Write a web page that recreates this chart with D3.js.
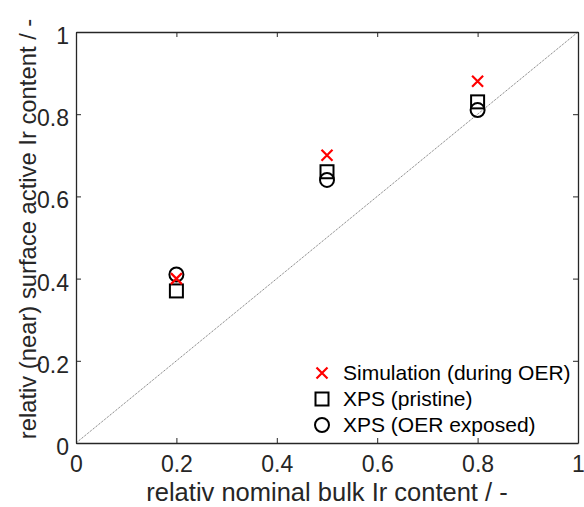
<!DOCTYPE html>
<html>
<head>
<meta charset="utf-8">
<script src="https://cdn.jsdelivr.net/npm/d3@7"></script>
<style>
  body { margin: 0; background: #fff; }
  text { font-family: "Liberation Sans", Arial, sans-serif; }
</style>
</head>
<body>
<svg id="chart" width="584" height="507"></svg>
<script>
const nominal = [0.2, 0.5, 0.8];
const simulation = [0.40, 0.70, 0.88];
const xpsPristine = [0.37, 0.66, 0.83];
const xpsOer = [0.41, 0.64, 0.81];
const ticks = [0, 0.2, 0.4, 0.6, 0.8, 1];
const legendLabels = ["Simulation (during OER)", "XPS (pristine)", "XPS (OER exposed)"];

const width = 584;
const height = 507;
const margin = { left: 76, right: 6, top: 32, bottom: 64 };

const svg = d3.select("#chart");

const x = d3.scaleLinear().domain([0, 1]).range([margin.left, width - margin.right]);
const y = d3.scaleLinear().domain([0, 1]).range([height - margin.bottom, margin.top]);

// diagonal reference line
svg.append("line")
    .attr("x1", x(0)).attr("y1", y(0))
    .attr("x2", x(1)).attr("y2", y(1))
    .attr("stroke", "#444")
    .attr("stroke-width", 0.8)
    .attr("stroke-dasharray", "1,1");

// axes (ticks pointing inward, like matlab)
const fmt = d => d === 0 || d === 1 ? String(d) : d.toFixed(1);

svg.append("g")
    .attr("transform", `translate(0,${y(0)})`)
    .call(d3.axisBottom(x).tickValues(ticks).tickFormat(fmt).tickSizeInner(-5).tickSizeOuter(0).tickPadding(13));
const yAxis = svg.append("g")
    .attr("transform", `translate(${x(0)},0)`)
    .call(d3.axisLeft(y).tickValues(ticks).tickFormat(fmt).tickSizeInner(-5).tickSizeOuter(0).tickPadding(7));
yAxis.selectAll(".tick text").attr("dy", "0.5em");

// top/right ticks
svg.append("g")
    .attr("transform", `translate(0,${y(1)})`)
    .call(d3.axisTop(x).tickValues(ticks).tickFormat("").tickSizeInner(-5).tickSizeOuter(0));
svg.append("g")
    .attr("transform", `translate(${x(1)},0)`)
    .call(d3.axisRight(y).tickValues(ticks).tickFormat("").tickSizeInner(-5).tickSizeOuter(0));

svg.selectAll(".domain").attr("stroke", "#262626").attr("stroke-width", 1.3);
svg.selectAll(".tick line").attr("stroke", "#262626");
svg.selectAll(".tick text").attr("font-size", 23).attr("fill", "#262626");

// axis titles
svg.append("text")
    .attr("x", 327)
    .attr("y", 501)
    .attr("text-anchor", "middle")
    .attr("font-size", 25.5)
    .attr("fill", "#262626")
    .text("relativ nominal bulk Ir content / -");

svg.append("text")
    .attr("transform", `translate(36,229) rotate(-90)`)
    .attr("text-anchor", "middle")
    .attr("font-size", 23.8)
    .attr("fill", "#262626")
    .text("relativ (near) surface active Ir content / -");

// markers
function cross(g, cx, cy, s) {
    g.append("path")
        .attr("d", `M${cx - s},${cy - s}L${cx + s},${cy + s}M${cx - s},${cy + s}L${cx + s},${cy - s}`)
        .attr("stroke", "#ff0000").attr("stroke-width", 2.2).attr("fill", "none");
}
function square(g, cx, cy, s) {
    g.append("rect")
        .attr("x", cx - s).attr("y", cy - s).attr("width", 2 * s).attr("height", 2 * s)
        .attr("stroke", "#000").attr("stroke-width", 2).attr("fill", "none");
}
function circle(g, cx, cy, r) {
    g.append("circle")
        .attr("cx", cx).attr("cy", cy).attr("r", r)
        .attr("stroke", "#000").attr("stroke-width", 2).attr("fill", "none");
}

const marks = svg.append("g");
nominal.forEach((n, i) => square(marks, x(n), y(xpsPristine[i]), 6.5));
nominal.forEach((n, i) => circle(marks, x(n), y(xpsOer[i]), 7));
nominal.forEach((n, i) => cross(marks, x(n), y(simulation[i]), 5.5));

// legend
const legend = svg.append("g");
const drawers = [(g, cx, cy) => cross(g, cx, cy, 5.5), (g, cx, cy) => square(g, cx, cy, 6.5), (g, cx, cy) => circle(g, cx, cy, 7)];
legendLabels.forEach((label, i) => {
    const cy = 373 + i * 26;
    drawers[i](legend, 322, cy);
    legend.append("text")
        .attr("x", 343)
        .attr("y", cy)
        .attr("dy", "0.35em")
        .attr("font-size", 21)
        .attr("fill", "#000")
        .text(label);
});
</script>
</body>
</html>
